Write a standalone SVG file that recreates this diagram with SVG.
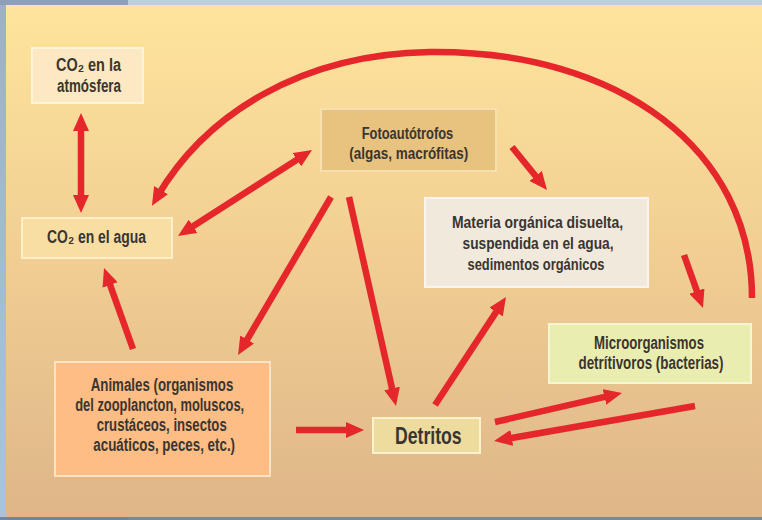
<svg xmlns="http://www.w3.org/2000/svg" width="762" height="520" viewBox="0 0 762 520">
  <style>
    .box { stroke-width: 2; }
    .t { font-family: "Liberation Sans", Arial, sans-serif; font-weight: bold; fill: #3a3530; text-anchor: middle; }
    .arr { fill: none; stroke: #E5262A; stroke-width: 6.5; stroke-linecap: butt; }
  </style>
  <defs>
    <linearGradient id="bg" x1="0" y1="0" x2="0" y2="1">
      <stop offset="0" stop-color="#FEE49C"/>
      <stop offset="0.45" stop-color="#F2D094"/>
      <stop offset="1" stop-color="#DEB688"/>
    </linearGradient>
    <linearGradient id="side" x1="0" y1="0" x2="0" y2="1">
      <stop offset="0" stop-color="#9DB0C8"/>
      <stop offset="1" stop-color="#AFC3D8"/>
    </linearGradient>
    <marker id="ah" viewBox="0 0 18 16" markerWidth="18" markerHeight="16" refX="8" refY="8" orient="auto-start-reverse" markerUnits="userSpaceOnUse">
      <path d="M0,0 L18,8 L0,16 z" fill="#E5262A"/>
    </marker>
  </defs>

  <!-- frame -->
  <rect x="0" y="0" width="762" height="520" fill="url(#side)"/>
  <rect x="128" y="0" width="634" height="5" fill="#BCCED9"/>
  <rect x="0" y="0" width="128" height="5" fill="#8E9FB9"/>
  <rect x="0" y="517" width="762" height="3" fill="#7D8893"/>
  <rect x="0" y="517" width="128" height="3" fill="#6F86A6"/>
  <rect x="6" y="5" width="756" height="512" fill="url(#bg)"/>

  <!-- nodes -->
  <g id="co2-atmosfera">
    <rect class="box" x="32" y="48" width="111" height="55" fill="#FCE8C2" stroke="#FFF3D8"/>
    <text class="t" x="88.5" y="71" font-size="17.5" textLength="65" lengthAdjust="spacingAndGlyphs">CO₂ en la</text>
    <text class="t" x="89" y="92" font-size="17.5" textLength="64" lengthAdjust="spacingAndGlyphs">atmósfera</text>
  </g>

  <g id="co2-agua">
    <rect class="box" x="22" y="218" width="150" height="40" fill="#F9DEA4" stroke="#FFF0C8"/>
    <text class="t" x="96.5" y="243" font-size="17.5" textLength="99" lengthAdjust="spacingAndGlyphs">CO₂ en el agua</text>
  </g>

  <g id="fotoautotrofos">
    <rect class="box" x="321" y="109" width="175" height="62" fill="#E8C27F" stroke="#F7E0AE"/>
    <text class="t" x="407.5" y="139" font-size="16" textLength="91.6" lengthAdjust="spacingAndGlyphs">Fotoautótrofos</text>
    <text class="t" x="408.8" y="159" font-size="16" textLength="119" lengthAdjust="spacingAndGlyphs">(algas, macrófitas)</text>
  </g>

  <g id="materia-organica">
    <rect class="box" x="425" y="198" width="223" height="89" fill="#F1E9DC" stroke="#F9F4EC"/>
    <text class="t" x="537.5" y="228" font-size="17" textLength="171" lengthAdjust="spacingAndGlyphs">Materia orgánica disuelta,</text>
    <text class="t" x="538" y="249" font-size="17" textLength="151" lengthAdjust="spacingAndGlyphs">suspendida en el agua,</text>
    <text class="t" x="536" y="270" font-size="17" textLength="137" lengthAdjust="spacingAndGlyphs">sedimentos orgánicos</text>
  </g>

  <g id="microorganismos">
    <rect class="box" x="549" y="324" width="202" height="59" fill="#EAEDB0" stroke="#F7F6D4"/>
    <text class="t" x="649" y="349" font-size="17.5" textLength="110" lengthAdjust="spacingAndGlyphs">Microorganismos</text>
    <text class="t" x="651" y="369" font-size="17.5" textLength="145" lengthAdjust="spacingAndGlyphs">detrítivoros (bacterias)</text>
  </g>

  <g id="animales">
    <rect class="box" x="55" y="362" width="215" height="114" fill="#FEBD84" stroke="#FFE2C2"/>
    <text class="t" x="162" y="391" font-size="17.5" textLength="142.6" lengthAdjust="spacingAndGlyphs">Animales (organismos</text>
    <text class="t" x="159.7" y="411" font-size="17.5" textLength="169" lengthAdjust="spacingAndGlyphs">del zooplancton, moluscos,</text>
    <text class="t" x="161.7" y="431" font-size="17.5" textLength="130" lengthAdjust="spacingAndGlyphs">crustáceos, insectos</text>
    <text class="t" x="164.2" y="451" font-size="17.5" textLength="141.7" lengthAdjust="spacingAndGlyphs">acuáticos, peces, etc.)</text>
  </g>

  <g id="detritos">
    <rect class="box" x="373" y="418" width="107" height="35" fill="#EEDB9E" stroke="#FBF1CC"/>
    <text class="t" x="428.3" y="444.3" font-size="24" textLength="66.7" lengthAdjust="spacingAndGlyphs">Detritos</text>
  </g>

  <!-- connectors -->
  <g id="connectors">
    <path class="arr" d="M81,123 L81,203" marker-start="url(#ah)" marker-end="url(#ah)"/>
    <path class="arr" d="M186.4,230.6 L303.6,155.4" marker-start="url(#ah)" marker-end="url(#ah)"/>
    <path class="arr" d="M752,298 C752,150 620,50 430,52 C300,54 205,115 157,197" marker-end="url(#ah)"/>
    <path class="arr" d="M512,147 L540.7,182.2" marker-end="url(#ah)"/>
    <path class="arr" d="M331,197 L243.1,346.4" marker-end="url(#ah)"/>
    <path class="arr" d="M349,197 L393.8,396.2" marker-end="url(#ah)"/>
    <path class="arr" d="M133,349 L107.4,277.4" marker-end="url(#ah)"/>
    <path class="arr" d="M296,430 L354,430" marker-end="url(#ah)"/>
    <path class="arr" d="M435,405 L500.5,305.4" marker-end="url(#ah)"/>
    <path class="arr" d="M684,255 L699.6,298.6" marker-end="url(#ah)"/>
    <path class="arr" d="M495,422 L612.3,395.2" marker-end="url(#ah)"/>
    <path class="arr" d="M695,406 L503.9,439.3" marker-end="url(#ah)"/>
  </g>
</svg>
